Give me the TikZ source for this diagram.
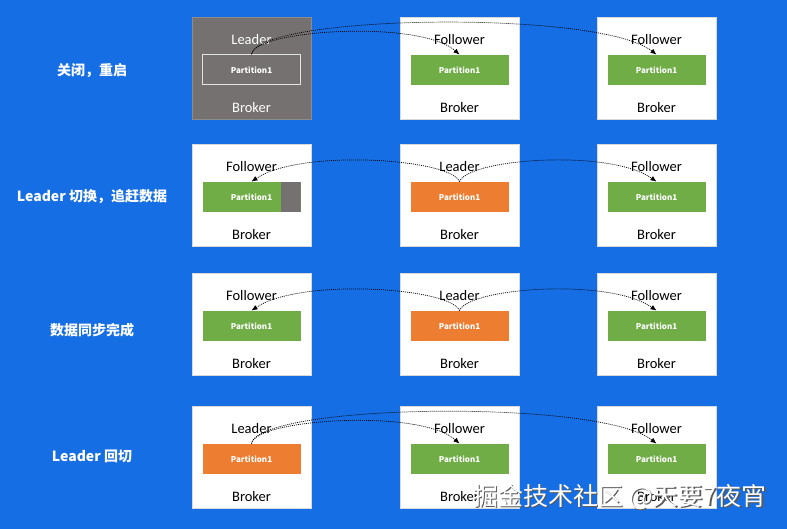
\documentclass[tikz,border=0pt]{standalone}
\usepackage{fontspec}
\setmainfont{Carlito}
\newfontfamily\cjk{Noto Sans CJK SC}
\usetikzlibrary{positioning, arrows.meta}
\definecolor{bgblue}{RGB}{22,110,228}
\definecolor{pgreen}{RGB}{112,173,71}
\definecolor{porange}{RGB}{237,125,49}
\definecolor{pgray}{RGB}{118,113,113}
\tikzset{
	broker/.style={draw=black!15, fill=white, minimum width=119bp, minimum height=102bp, inner sep=0pt},
	off11/.style={fill=pgray, draw=black!45, text=white},
	part/.style={minimum width=98bp, minimum height=30bp, inner sep=0pt, text=white, font=\cjk\bfseries\fontsize{8bp}{9bp}\selectfont},
	role/.style={font=\fontsize{14.5bp}{16bp}\selectfont, inner sep=1bp},
	stage/.style={text=white, font=\cjk\bfseries\fontsize{14bp}{16bp}\selectfont},
	sync/.style={draw=black, line width=0.7bp, dash pattern=on 1bp off 1bp, -{Latex[length=6bp,width=5bp]}},
	wmark/.style={font=\cjk\fontsize{25bp}{28bp}\selectfont}
}

\begin{document}
\begin{tikzpicture}[x=1bp, y=1bp]
	\fill[bgblue] (0,0) rectangle (787,-529);
	\useasboundingbox (0,0) rectangle (787,-529);
	% brokers
	\foreach \r/\y in {1/68, 2/195, 3/324, 4/457}
	\foreach \c/\x in {1/251.5, 2/459.5, 3/656.5} {
		\node[broker, off\r\c/.try] (b\r\c) at (\x,-\y) {};
		\node[role, off\r\c/.try, draw=none, fill=none] (k\r\c) at ([yshift=-91bp]b\r\c.north) {Broker};
	}
	% stages
	\node[stage] (s1) at (92,-71) {关闭，重启};
	\node[stage] (s2) at (92,-197) {Leader 切换，追赶数据};
	\node[stage] (s3) at (92,-330) {数据同步完成};
	\node[stage] (s4) at (92,-456) {Leader 回切};
	% roles
	\node[role, text=white] (r11) at ([yshift=-22.5bp]b11.north) {Leader};
	\node[role] (r12) at ([yshift=-22.5bp]b12.north) {Follower};
	\node[role] (r13) at ([yshift=-22.5bp]b13.north) {Follower};
	\node[role] (r21) at ([yshift=-22.5bp]b21.north) {Follower};
	\node[role] (r22) at ([yshift=-22.5bp]b22.north) {Leader};
	\node[role] (r23) at ([yshift=-22.5bp]b23.north) {Follower};
	\node[role] (r31) at ([yshift=-22.5bp]b31.north) {Follower};
	\node[role] (r32) at ([yshift=-22.5bp]b32.north) {Leader};
	\node[role] (r33) at ([yshift=-22.5bp]b33.north) {Follower};
	\node[role] (r41) at ([yshift=-22.5bp]b41.north) {Leader};
	\node[role] (r42) at ([yshift=-22.5bp]b42.north) {Follower};
	\node[role] (r43) at ([yshift=-22.5bp]b43.north) {Follower};
	% partitions
	\node[part, fill=pgray, draw=white!80!pgray, line width=1bp] (p11) at ([yshift=-53bp]b11.north) {Partition1};
	\node[part, fill=pgreen] (p12) at ([yshift=-53bp]b12.north) {Partition1};
	\node[part, fill=pgreen] (p13) at ([yshift=-53bp]b13.north) {Partition1};
	\node[part, fill=pgreen, path picture={\fill[pgray] ([xshift=-20bp]path picture bounding box.north east) rectangle (path picture bounding box.south east);}] (p21) at ([yshift=-53bp]b21.north) {Partition1};
	\node[part, fill=porange] (p22) at ([yshift=-53bp]b22.north) {Partition1};
	\node[part, fill=pgreen] (p23) at ([yshift=-53bp]b23.north) {Partition1};
	\node[part, fill=pgreen] (p31) at ([yshift=-53bp]b31.north) {Partition1};
	\node[part, fill=porange] (p32) at ([yshift=-53bp]b32.north) {Partition1};
	\node[part, fill=pgreen] (p33) at ([yshift=-53bp]b33.north) {Partition1};
	\node[part, fill=porange] (p41) at ([yshift=-53bp]b41.north) {Partition1};
	\node[part, fill=pgreen] (p42) at ([yshift=-53bp]b42.north) {Partition1};
	\node[part, fill=pgreen] (p43) at ([yshift=-53bp]b43.north) {Partition1};
	% replication
	\draw[sync] (p11.north) .. controls +(4,25) and +(-39,35) .. (p12.north);
	\draw[sync] (p11.north) .. controls +(7,40) and +(-57,45) .. (p13.north);
	\draw[sync] (p22.north) .. controls +(-9,23) and +(49,33) .. (p21.north);
	\draw[sync] (p22.north) .. controls +(9,23) and +(-47,33) .. (p23.north);
	\draw[sync] (p32.north) .. controls +(-9,23) and +(49,33) .. (p31.north);
	\draw[sync] (p32.north) .. controls +(9,23) and +(-47,33) .. (p33.north);
	\draw[sync] (p41.north) .. controls +(4,25) and +(-39,35) .. (p42.north);
	\draw[sync] (p41.north) .. controls +(7,40) and +(-57,45) .. (p43.north);
	% watermark
	\node[wmark, text=black!65] (shade) at (621.5,-498.5) {掘金技术社区 @天要7夜宵};
	\node[wmark, text=white] (stamp) at (620,-497) {掘金技术社区 @天要7夜宵};
\end{tikzpicture}
\end{document}
